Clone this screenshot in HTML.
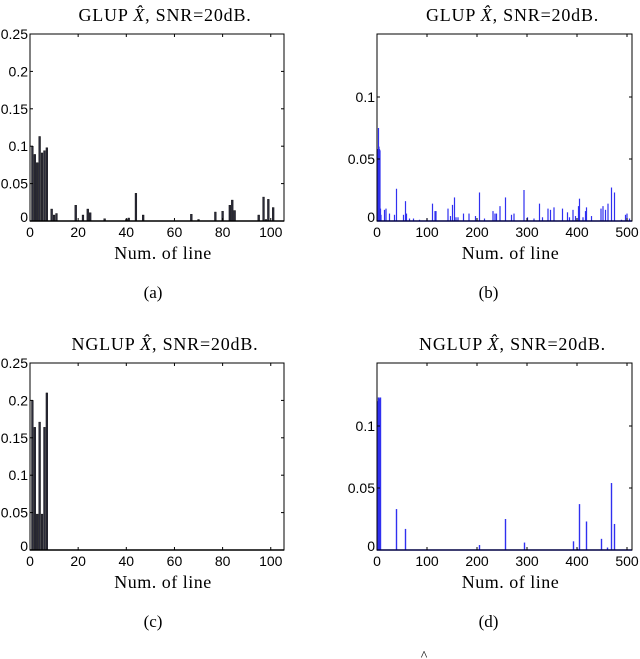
<!DOCTYPE html>
<html><head><meta charset="utf-8"><style>
html,body{margin:0;padding:0;background:#fff;}
svg{display:block;}
.tk{font-family:"Liberation Sans",Arial,sans-serif;font-size:14px;fill:#000;}
.sf{font-family:"Liberation Serif",serif;fill:#000;}
</style></head><body>
<svg id="fig" width="640" height="659" viewBox="0 0 640 659" xmlns="http://www.w3.org/2000/svg"></svg>
<script>
// Panel (a): GLUP, 105 lines
const aIdx = [1,2,3,4,5,6,7,9,10,11,19,22,24,25,31,40,41,44,47,67,70,77,80,83,84,85,95,97,98,99,101];
const aVal = [0.1,0.089,0.078,0.113,0.091,0.094,0.098,0.016,0.008,0.01,0.021,0.008,0.016,0.011,0.003,0.002,0.004,0.037,0.008,0.009,0.002,0.012,0.013,0.021,0.028,0.014,0.008,0.032,0.002,0.029,0.018];
// Panel (b): GLUP, 505 lines
const bIdx = [1,2,3,4,5,6,7,8,15,18,25,35,39,53,57,59,65,73,85,100,111,116,118,142,147,151,155,158,162,173,184,197,205,215,232,236,239,246,257,269,274,294,301,314,325,331,342,347,354,371,381,385,392,397,403,405,412,417,419,429,448,452,457,462,469,475,489,497,500,505];
const bVal = [0.058,0.058,0.075,0.06,0.058,0.057,0.01,0.005,0.009,0.01,0.006,0.005,0.026,0.005,0.016,0.006,0.002,0.002,0.001,0.002,0.014,0.008,0.008,0.01,0.004,0.013,0.019,0.003,0.003,0.006,0.006,0.004,0.023,0.002,0.008,0.006,0.006,0.012,0.019,0.005,0.006,0.025,0.003,0.002,0.014,0.003,0.01,0.009,0.011,0.01,0.007,0.003,0.009,0.004,0.012,0.018,0.003,0.008,0.011,0.004,0.01,0.012,0.009,0.014,0.027,0.023,0.001,0.005,0.006,0.002];
// Panel (c): NGLUP, 105 lines
const cIdx = [1,2,3,4,5,6,7];
const cVal = [0.2,0.164,0.048,0.171,0.048,0.164,0.21];
// Panel (d): NGLUP, 505 lines
const dIdx = [1,2,3,4,5,6,7,39,57,205,257,295,393,401,405,419,449,461,469,475];
const dVal = [0.115,0.12,0.123,0.123,0.12,0.122,0.123,0.033,0.017,0.004,0.025,0.006,0.007,0.001,0.037,0.023,0.009,0.002,0.054,0.021];
const xTicksA = [0,20,40,60,80,100];
const xTicksB = [0,100,200,300,400,500];
const yTicksA = [0,0.05,0.1,0.15,0.2,0.25];
const yLabelsA = ["0","0.05","0.1","0.15","0.2","0.25"];
const yTicksB = [0,0.05,0.1];
const yLabelsB = ["0","0.05","0.1"];

const NS="http://www.w3.org/2000/svg";
const svg=document.getElementById('fig');
function mk(tag,attrs,parent){const e=document.createElementNS(NS,tag);for(const k in attrs)e.setAttribute(k,attrs[k]);(parent||svg).appendChild(e);return e;}

function panel(p){
  const g=mk('g',{});
  
  
  const L=p.L,R=p.R,T=p.T,B=p.B;
  const xs=v=>L+(v-0)/(p.xmax)*(R-L);
  const ys=v=>B-v/p.ymax*(B-T);
  p.idx.forEach((ix,i)=>{
    const x=xs(ix), y=ys(p.val[i]);
    const r=mk('rect',{x:(x-p.bw/2).toFixed(2),y:y.toFixed(2),width:p.bw,height:(B-y).toFixed(2),fill:p.fill,stroke:p.stroke,'stroke-width':p.sw},g);
    
    
  });
  const bl=mk('line',{x1:L,y1:B,x2:R,y2:B,stroke:p.base,'stroke-width':1.5},g);
  
  
  const fr=mk('rect',{x:L,y:T,width:R-L,height:B-T,fill:'none',stroke:'#000','stroke-width':1},g);
  
  
  p.xt.forEach(v=>{
    const x=xs(v);
    mk('line',{x1:x,y1:B,x2:x,y2:B-3,stroke:'#000','stroke-width':1},g);
    mk('line',{x1:x,y1:T,x2:x,y2:T+3,stroke:'#000','stroke-width':1},g);
    const t=mk('text',{x:x,y:B+16,'text-anchor':'middle',class:'tk'},g);
    t.textContent=String(v);
    
    
  });
  p.yt.forEach((v,i)=>{
    const y=ys(v);
    mk('line',{x1:L,y1:y,x2:L+3,y2:y,stroke:'#000','stroke-width':1},g);
    mk('line',{x1:R,y1:y,x2:R-3,y2:y,stroke:'#000','stroke-width':1},g);
    const t=mk('text',{x:L-2,y:y+(v===0?1:5),'text-anchor':'end',class:'tk'},g);
    t.textContent=p.yl[i];
    
    
  });
  const cx=(L+R)/2;
  const ti=mk('text',{x:cx+8,y:T-13,'text-anchor':'middle',class:'sf','font-size':'18','letter-spacing':'0.8'},g);
  ti.innerHTML=p.title+' <tspan font-style="italic">X̂</tspan>, SNR=20dB.';
  
  
  const xl=mk('text',{x:cx+6,y:B+38,'text-anchor':'middle',class:'sf','font-size':'18','letter-spacing':'0.5'},g);
  xl.textContent='Num. of line';
  
  
  const cap=mk('text',{x:cx+(p.capdx||0),y:B+77,'text-anchor':'middle',class:'sf','font-size':'17'},g);
  cap.textContent=p.cap;
  
  
}
panel({name:'panel-a',L:30,R:284,T:34,B:221,xmax:105.5,ymax:0.25,idx:aIdx,val:aVal,bw:1.8,fill:'#2b2b3a',stroke:'#000',sw:0.4,base:'#000',xt:xTicksA,yt:yTicksA,yl:yLabelsA,title:'GLUP',cap:'(a)',capdx:-4});
panel({name:'panel-b',L:377,R:632,T:34,B:221,xmax:510,ymax:0.1508,idx:bIdx,val:bVal,bw:1.2,fill:'#3030f0',stroke:'none',sw:0,base:'#0000cc',xt:xTicksB,yt:yTicksB,yl:yLabelsB,title:'GLUP',cap:'(b)',capdx:-16});
panel({name:'panel-c',L:30,R:284,T:363,B:550,xmax:105.5,ymax:0.25,idx:cIdx,val:cVal,bw:1.8,fill:'#2b2b3a',stroke:'#000',sw:0.4,base:'#000',xt:xTicksA,yt:yTicksA,yl:yLabelsA,title:'NGLUP',cap:'(c)',capdx:-4});
panel({name:'panel-d',L:377,R:632,T:363,B:550,xmax:510,ymax:0.1508,idx:dIdx,val:dVal,bw:1.4,fill:'#3030f0',stroke:'none',sw:0,base:'#0000cc',xt:xTicksB,yt:yTicksB,yl:yLabelsB,title:'NGLUP',cap:'(d)',capdx:-16});
const hat=mk('text',{x:424,y:660,'text-anchor':'middle',class:'sf','font-size':'14'});
hat.textContent='^';


</script>
</body></html>
